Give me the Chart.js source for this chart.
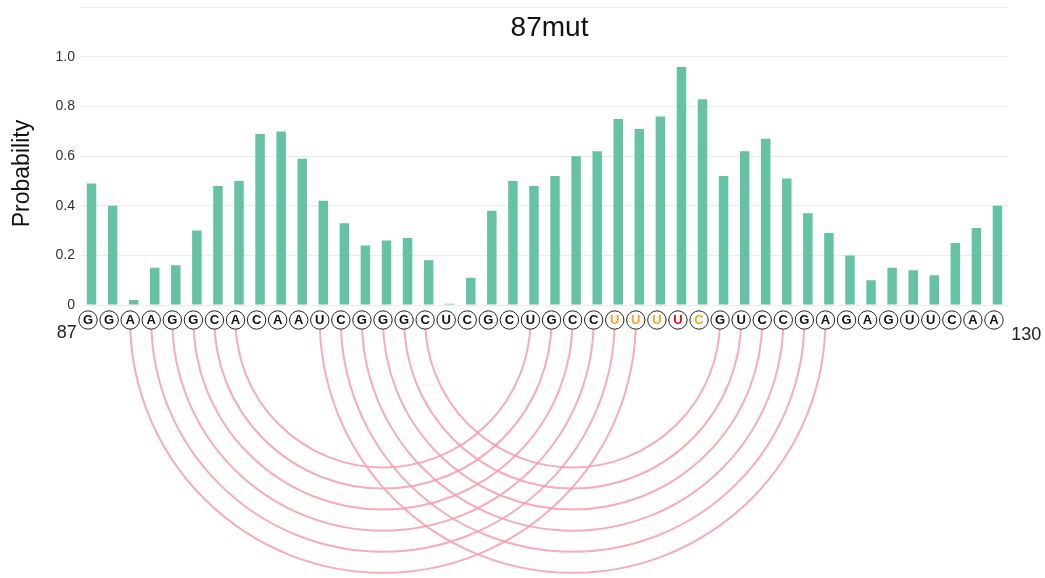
<!DOCTYPE html>
<html>
<head>
<meta charset="utf-8">
<title>87mut</title>
<script src="https://cdn.jsdelivr.net/npm/chart.js@4/dist/chart.umd.min.js"></script>
<style>
  html, body { margin: 0; padding: 0; background: #ffffff; overflow: hidden; }
  #wrap { width: 1045px; height: 578px; position: relative; overflow: hidden; }
  #chart { position: absolute; left: 0; top: -7px; }
</style>
</head>
<body>
<div id="wrap"><canvas id="chart" width="1045" height="585"></canvas></div>
<script>
// Sequence 87..130 and per-base pairing probability
const chartTitle = '87mut';
const yTitle = 'Probability';
const startLabel = '87';
const endLabel = '130';
const sequence = ['G','G','A','A','G','G','C','A','C','A','A','U','C','G','G','G','C','U','C','G','C','U',
                  'G','C','C','U','U','U','U','C','G','U','C','C','G','A','G','A','G','U','U','C','A','A'];
const positions = [87,88,89,90,91,92,93,94,95,96,97,98,99,100,101,102,103,104,105,106,107,108,
                   109,110,111,112,113,114,115,116,117,118,119,120,121,122,123,124,125,126,127,128,129,130];
const probability = [0.49,0.40,0.02,0.15,0.16,0.30,0.48,0.50,0.69,0.70,0.59,0.42,0.33,0.24,0.26,0.27,0.18,0.005,
                     0.11,0.38,0.50,0.48,0.52,0.60,0.62,0.75,0.71,0.76,0.96,0.83,0.52,0.62,0.67,0.51,0.37,0.29,
                     0.20,0.10,0.15,0.14,0.12,0.25,0.31,0.40];
const yTicks = [0, 0.2, 0.4, 0.6, 0.8, 1.0];
// mutated positions
const changedSites = [112, 113, 114, 116];
const keySites = [115];
// base pairs (5' position, 3' position)
const pairs = [[89,113],[90,112],[91,111],[92,110],[93,109],[94,108],
               [98,122],[99,121],[100,120],[101,119],[102,118],[103,117]];

const FONT = 'Arial, "Liberation Sans", Helvetica, sans-serif';
Chart.defaults.font.family = FONT;

const BAR = '#66c2a5';
const ARC = 'rgba(246,158,170,0.85)';
const ORANGE = '#f5a623';
const RED = '#e8101a';

const seqPlugin = {
  id: 'sequenceTrack',
  afterDraw(chart) {
    const ctx = chart.ctx;
    const xs = chart.scales.x;
    const ys = chart.scales.y;
    const area = chart.chartArea;
    const cy = area.bottom + 15;
    const r = 9.2;
    const shift = -3.5;
    const px = pos => xs.getPixelForValue(positions.indexOf(pos)) + shift;

    ctx.save();
    // pairing arcs
    ctx.strokeStyle = ARC;
    ctx.lineWidth = 2;
    pairs.forEach(([a, b]) => {
      const xa = px(a), xb = px(b);
      ctx.beginPath();
      ctx.arc((xa + xb) / 2, cy, Math.abs(xb - xa) / 2, 0, Math.PI, false);
      ctx.stroke();
    });

    // nucleotide circles
    ctx.textAlign = 'center';
    ctx.textBaseline = 'middle';
    ctx.font = 'bold 13px ' + FONT;
    sequence.forEach((nt, i) => {
      const p = positions[i];
      const x = px(p);
      ctx.beginPath();
      ctx.arc(x, cy, r, 0, Math.PI * 2);
      ctx.fillStyle = '#ffffff';
      ctx.fill();
      ctx.lineWidth = 1;
      ctx.strokeStyle = '#222222';
      ctx.stroke();
      ctx.fillStyle = keySites.includes(p) ? RED : (changedSites.includes(p) ? ORANGE : '#111111');
      ctx.fillText(nt, x, cy + 0.5);
    });

    // range labels
    ctx.font = '18px ' + FONT;
    ctx.fillStyle = '#222222';
    ctx.textAlign = 'right';
    ctx.fillText(startLabel, px(positions[0]) - r - 2, cy + 13);
    ctx.textAlign = 'left';
    ctx.fillText(endLabel, px(positions[positions.length - 1]) + r + 8, cy + 15);

    // axis title
    ctx.save();
    ctx.translate(23, ys.getPixelForValue(0.53));
    ctx.rotate(-Math.PI / 2);
    ctx.font = '23px ' + FONT;
    ctx.fillStyle = '#111111';
    ctx.textAlign = 'center';
    ctx.fillText(yTitle, 0, 0);
    ctx.restore();

    // title
    ctx.font = '28px ' + FONT;
    ctx.fillStyle = '#111111';
    ctx.textAlign = 'center';
    ctx.fillText(chartTitle, (area.left + area.right) / 2 + 5, area.top + 21);
    ctx.restore();
  }
};

new Chart(document.getElementById('chart'), {
  type: 'bar',
  data: {
    labels: sequence,
    datasets: [{
      label: yTitle,
      data: probability,
      backgroundColor: BAR,
      borderWidth: 0,
      barPercentage: 0.45,
      categoryPercentage: 1.0
    }]
  },
  options: {
    responsive: false,
    animation: false,
    devicePixelRatio: 1,
    layout: { padding: { left: 0, right: 37, top: 0, bottom: 273 } },
    plugins: {
      legend: { display: false },
      tooltip: { enabled: false },
      title: { display: false }
    },
    scales: {
      x: { display: false },
      y: {
        min: 0,
        max: 1.2,
        afterFit(scale) { scale.width = 81; },
        afterBuildTicks(scale) {
          scale.ticks = yTicks.concat([1.2]).map(v => ({ value: v }));
        },
        border: { display: false },
        grid: { color: '#ececec', lineWidth: 1, drawTicks: false },
        ticks: {
          padding: 6,
          color: '#333333',
          font: { size: 14 },
          callback: v => (v > 1.05 ? '' : (v === 0 ? '0' : v.toFixed(1)))
        },
        title: { display: false }
      }
    }
  },
  plugins: [seqPlugin]
});
</script>
</body>
</html>
